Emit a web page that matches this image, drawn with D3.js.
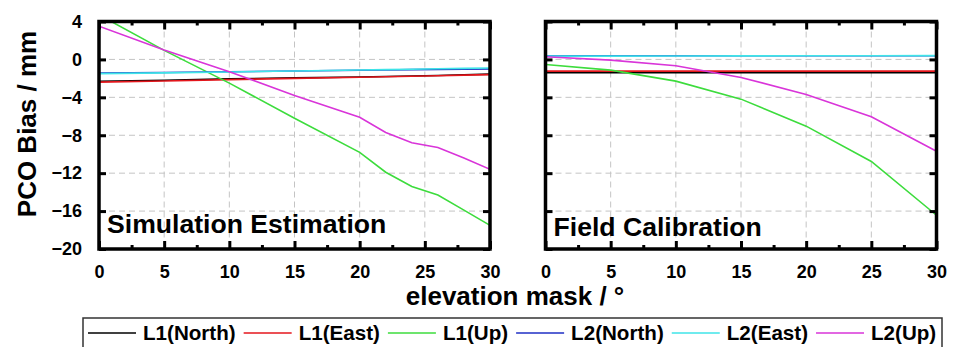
<!DOCTYPE html>
<html><head><meta charset="utf-8">
<script src="https://cdn.jsdelivr.net/npm/d3@7"></script>
<style>
html,body{margin:0;padding:0;background:#fff;}
svg{display:block;font-family:Arial,"Liberation Sans",sans-serif;font-weight:bold;}
</style></head>
<body>
<script>
// ---------- data ----------
const seriesNames = ["L1(North)", "L1(East)", "L1(Up)", "L2(North)", "L2(East)", "L2(Up)"];
const seriesColors = ["#000000", "#e4161c", "#3ddc3d", "#1f2fc4", "#3fe4e8", "#d935d9"];

const xSim = [0, 5, 10, 15, 20, 22, 24, 26, 28, 30];
const simL1North = [-2.3, -2.2, -2.05, -1.95, -1.85, -1.8, -1.75, -1.7, -1.62, -1.55];
const simL1East  = [-2.4, -2.27, -2.13, -2.0, -1.88, -1.83, -1.78, -1.72, -1.66, -1.6];
const simL1Up    = [4.7, 0.95, -2.5, -6.2, -9.8, -11.9, -13.4, -14.3, -15.9, -17.5];
const simL2North = [-1.45, -1.38, -1.3, -1.22, -1.15, -1.12, -1.08, -1.05, -1.02, -1.0];
const simL2East  = [-1.5, -1.42, -1.32, -1.22, -1.12, -1.08, -1.03, -0.99, -0.95, -0.9];
const simL2Up    = [3.5, 1.0, -1.3, -3.8, -6.1, -7.7, -8.8, -9.3, -10.4, -11.6];

const xField = [0, 5, 10, 15, 20, 25, 30];
const fieldL1North = [-1.41, -1.41, -1.41, -1.41, -1.41, -1.41, -1.41];
const fieldL1East  = [-1.24, -1.24, -1.24, -1.24, -1.24, -1.24, -1.24];
const fieldL1Up    = [-0.53, -1.13, -2.29, -4.19, -7.04, -10.77, -16.44];
const fieldL2North = [0.38, 0.38, 0.38, 0.38, 0.38, 0.38, 0.38];
const fieldL2East  = [0.35, 0.35, 0.36, 0.37, 0.38, 0.39, 0.4];
const fieldL2Up    = [0.28, -0.07, -0.67, -1.9, -3.7, -6.06, -9.68];

const xTicks = [0, 5, 10, 15, 20, 25, 30];
const xMinorTicks = [2.5, 7.5, 12.5, 17.5, 22.5, 27.5];
const yTicks = [4, 0, -4, -8, -12, -16, -20];
const panelTitles = ["Simulation Estimation", "Field Calibration"];
const yAxisTitle = "PCO Bias / mm";
const xAxisTitle = "elevation mask / °";

// ---------- layout ----------
const W = 954, H = 347;
const svg = d3.select("body").append("svg").attr("width", W).attr("height", H);

const yTop = 21.5, yBot = 249;
const y = d3.scaleLinear().domain([-20, 4]).range([yBot, yTop]);

const panels = [
  {x0: 99, x1: 490, xs: xSim, series: [simL1North, simL1East, simL1Up, simL2North, simL2East, simL2Up], showY: true, title: panelTitles[0], titleY: 233},
  {x0: 545.5, x1: 936.5, xs: xField, series: [fieldL1North, fieldL1East, fieldL1Up, fieldL2North, fieldL2East, fieldL2Up], showY: false, title: panelTitles[1], titleY: 236}
];

const fmt = d => d < 0 ? "\u2212" + Math.abs(d) : String(d);

panels.forEach((p, pi) => {
  const x = d3.scaleLinear().domain([0, 30]).range([p.x0, p.x1]);
  const g = svg.append("g");
  const clipId = "clip" + pi;
  svg.append("clipPath").attr("id", clipId).append("rect")
    .attr("x", p.x0).attr("y", yTop).attr("width", p.x1 - p.x0).attr("height", yBot - yTop);

  // grid
  const grid = g.append("g").attr("stroke", "#c4c4c4").attr("stroke-width", 1).attr("stroke-dasharray", "6,4");
  xTicks.filter(t => t > 0 && t < 30).forEach(t => {
    grid.append("line").attr("x1", x(t)).attr("x2", x(t)).attr("y1", yTop).attr("y2", yBot);
  });
  yTicks.filter(t => t > -20 && t < 4).forEach(t => {
    grid.append("line").attr("x1", p.x0).attr("x2", p.x1).attr("y1", y(t)).attr("y2", y(t));
  });

  // lines
  const line = d3.line().x((d, i) => x(p.xs[i])).y(d => y(d));
  const lg = g.append("g").attr("clip-path", `url(#${clipId})`);
  p.series.forEach((s, i) => {
    lg.append("path").datum(s).attr("d", line).attr("fill", "none")
      .attr("stroke", seriesColors[i]).attr("stroke-width", 1.6);
  });

  // axes with inward ticks
  const axB = d3.axisBottom(x).tickValues(xTicks).tickSizeInner(-8).tickSizeOuter(0).tickFormat(d3.format("d")).tickPadding(16);
  const axT = d3.axisTop(x).tickValues(xTicks).tickSizeInner(-8).tickSizeOuter(0).tickFormat("");
  const axBm = d3.axisBottom(x).tickValues(xMinorTicks).tickSizeInner(-4).tickSizeOuter(0).tickFormat("");
  const axTm = d3.axisTop(x).tickValues(xMinorTicks).tickSizeInner(-4).tickSizeOuter(0).tickFormat("");
  const axL = d3.axisLeft(y).tickValues(yTicks).tickSizeInner(-7).tickSizeOuter(0).tickFormat(p.showY ? fmt : "").tickPadding(17);
  const axR = d3.axisRight(y).tickValues(yTicks).tickSizeInner(-7).tickSizeOuter(0).tickFormat("");

  const styleAx = sel => {
    sel.select(".domain").remove();
    sel.selectAll(".tick line").attr("stroke", "#000").attr("stroke-width", 3);
    sel.selectAll(".tick text").attr("fill", "#000").attr("font-size", 18).attr("font-weight", "bold")
      .attr("font-family", "Arial, 'Liberation Sans', sans-serif");
  };
  g.append("g").attr("transform", `translate(0,${yBot})`).call(axB).call(styleAx);
  g.append("g").attr("transform", `translate(0,${yTop})`).call(axT).call(styleAx);
  g.append("g").attr("transform", `translate(0,${yBot})`).call(axBm).call(styleAx);
  g.append("g").attr("transform", `translate(0,${yTop})`).call(axTm).call(styleAx);
  g.append("g").attr("transform", `translate(${p.x0},0)`).call(axL).call(styleAx);
  g.append("g").attr("transform", `translate(${p.x1},0)`).call(axR).call(styleAx);

  // frame
  g.append("rect").attr("x", p.x0).attr("y", yTop).attr("width", p.x1 - p.x0).attr("height", yBot - yTop)
    .attr("fill", "none").attr("stroke", "#000").attr("stroke-width", 3.5);

  // panel title
  g.append("text").attr("x", p.x0 + 8).attr("y", p.titleY).attr("font-size", 26.6).attr("fill", "#000").text(p.title);
});

// axis titles
svg.append("text").attr("transform", `translate(36,124) rotate(-90)`)
  .attr("text-anchor", "middle").attr("font-size", 26).attr("fill", "#000").text(yAxisTitle);
svg.append("text").attr("x", 515).attr("y", 305).attr("text-anchor", "middle")
  .attr("font-size", 26).attr("fill", "#000").text(xAxisTitle);

// legend
const leg = svg.append("g");
leg.append("rect").attr("x", 83).attr("y", 318).attr("width", 859).attr("height", 40)
  .attr("fill", "#fff").attr("stroke", "#333").attr("stroke-width", 1.5);
let lx = 88;
seriesNames.forEach((n, i) => {
  leg.append("line").attr("x1", lx).attr("x2", lx + 48).attr("y1", 333).attr("y2", 333)
    .attr("stroke", seriesColors[i]).attr("stroke-width", 1.6);
  const t = leg.append("text").attr("x", lx + 55).attr("y", 340).attr("font-size", 20.6).attr("fill", "#000").text(n);
  lx = lx + 55 + t.node().getComputedTextLength() + 8;
});
</script>
</body></html>
